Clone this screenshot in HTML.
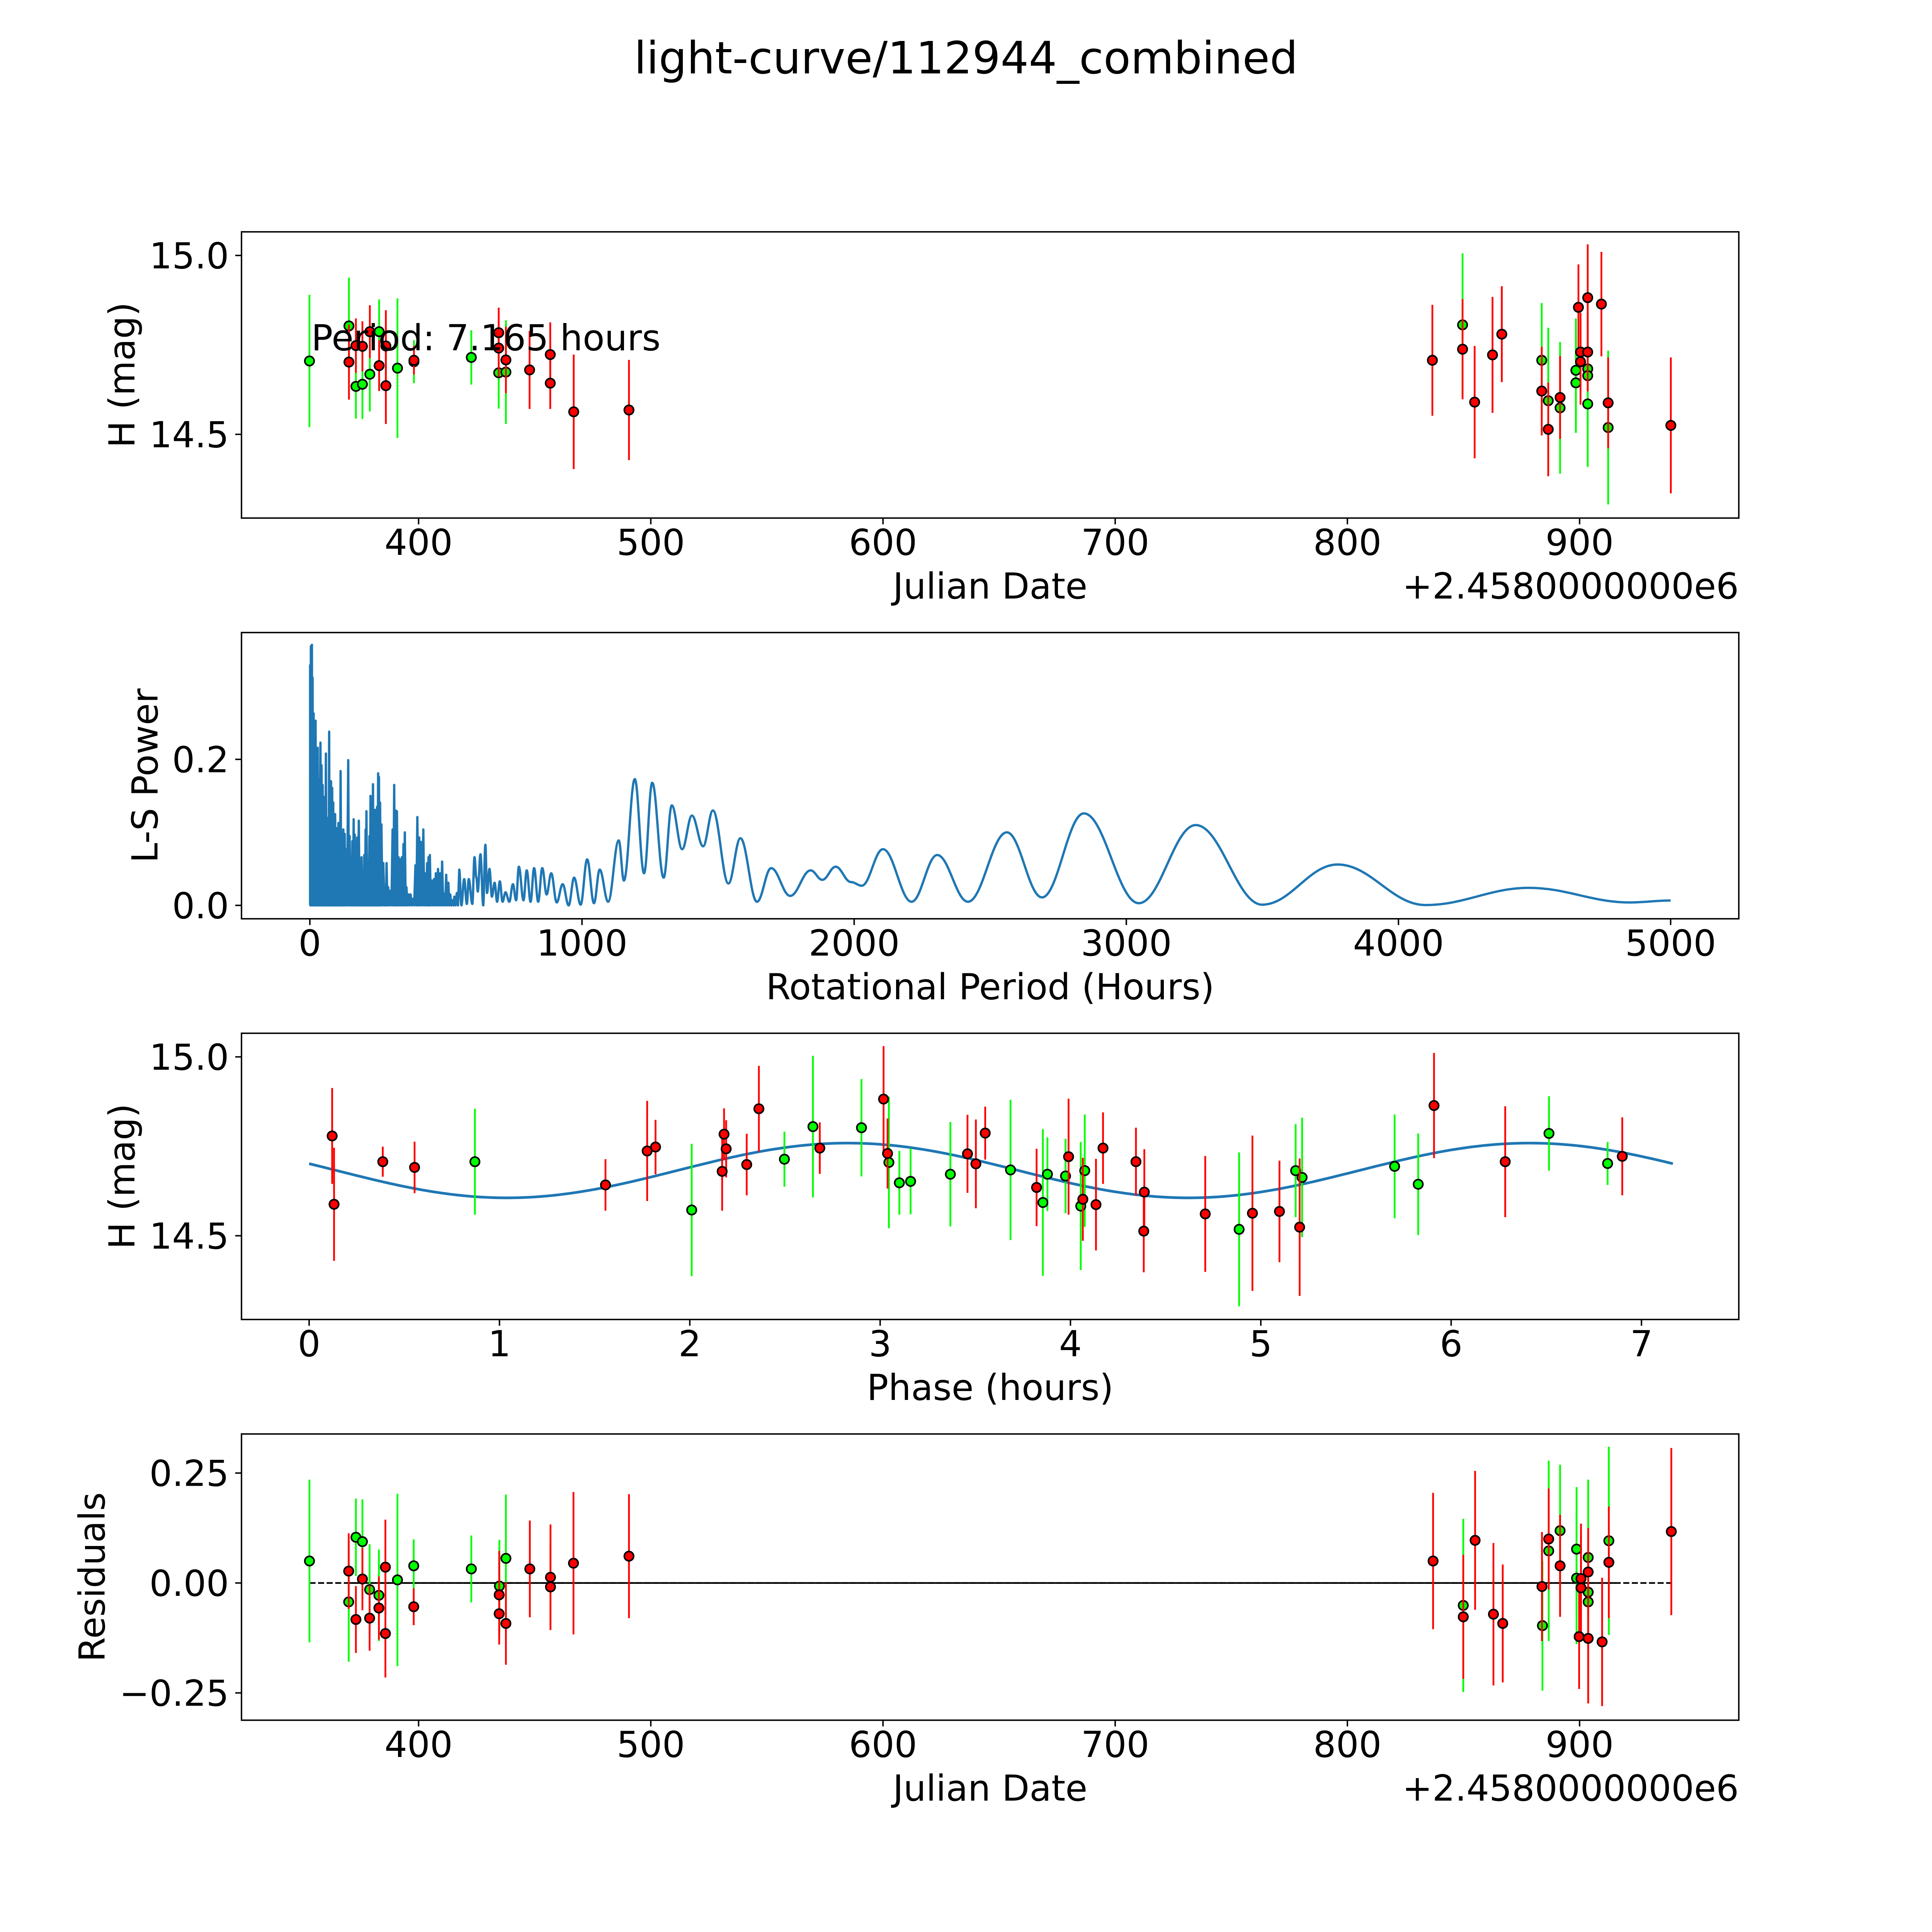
<!DOCTYPE html>
<html><head><meta charset="utf-8"><style>
html,body{margin:0;padding:0;background:#fff;width:100%;height:100%;overflow:hidden;}
svg{display:block;width:100vw;height:100vh;font-family:"DejaVu Sans","Liberation Sans",sans-serif;}
</style></head><body>
<svg id="fig" xmlns="http://www.w3.org/2000/svg" viewBox="0 0 5400 5400" preserveAspectRatio="xMidYMid meet">
<rect x="0" y="0" width="5400" height="5400" fill="#ffffff"/>
<text x="2700" y="205" font-size="124" text-anchor="middle">light-curve/112944_combined</text>
</svg>
<script>
// ---------- data ----------
const lcGreenDate=[353.0,370.0,373.0,375.8,379.0,383.0,390.9,398.0,422.7,434.5,437.6,849.6,883.7,886.5,891.6,898.4,898.4,903.5,903.5,903.5,912.3];
const lcGreenMag=[14.705,14.803,14.634,14.640,14.668,14.787,14.685,14.703,14.715,14.672,14.674,14.806,14.707,14.594,14.574,14.679,14.644,14.683,14.664,14.585,14.519];
const lcGreenErr=[0.185,0.135,0.09,0.097,0.104,0.09,0.195,0.06,0.076,0.1,0.145,0.2,0.16,0.204,0.184,0.145,0.14,0.14,0.14,0.176,0.215];
const lcRedDate=[370.0,373.0,375.8,379.0,383.0,385.9,385.9,398.0,434.5,434.5,437.6,447.8,456.7,456.7,466.8,490.6,836.6,849.6,854.8,862.5,866.5,883.7,886.5,891.6,899.5,900.4,900.4,903.5,903.5,909.4,912.3,939.3];
const lcRedMag=[14.702,14.748,14.746,14.787,14.692,14.747,14.636,14.707,14.784,14.741,14.708,14.680,14.723,14.643,14.563,14.568,14.707,14.738,14.590,14.722,14.780,14.621,14.514,14.603,14.855,14.730,14.703,14.882,14.730,14.864,14.588,14.525];
const lcRedErr=[0.105,0.076,0.07,0.074,0.071,0.1,0.107,0.04,0.07,0.08,0.093,0.109,0.09,0.072,0.16,0.14,0.155,0.14,0.157,0.162,0.134,0.124,0.131,0.116,0.12,0.11,0.12,0.149,0.11,0.146,0.127,0.19];

const lsSpikePeriod=[1,3.8,7.6,10,14,18,21,25,29,33,39,43,47,50,54,59,63,67,71,74,78,82,86,89,93,97,101,105,108,113,118,123,128,133,141,146,150,156,161,165,169,174,180,185,190,195,200,205,208,213,219,223,227,232,236,239,243,247,251,254,258,263,270,277,282,288,296,304,310,315,320,326,332,338,344,349,355,363,370,379,388,395,402,408,417,423,431,436,441,448,456,463,471,479,486,494,501,509,516,524,531,540];
const lsSpikePower=[0.329,0.355,0.357,0.312,0.263,0.216,0.253,0.162,0.216,0.173,0.223,0.192,0.165,0.149,0.133,0.208,0.120,0.095,0.238,0.141,0.170,0.161,0.141,0.109,0.125,0.106,0.077,0.113,0.087,0.184,0.068,0.104,0.098,0.077,0.199,0.095,0.060,0.088,0.118,0.097,0.074,0.093,0.116,0.060,0.066,0.034,0.069,0.104,0.129,0.057,0.095,0.150,0.134,0.166,0.131,0.082,0.131,0.135,0.181,0.176,0.141,0.111,0.058,0.025,0.058,0.025,0.020,0.104,0.165,0.130,0.129,0.066,0.063,0.066,0.084,0.100,0.025,0.015,0.015,0.009,0.055,0.121,0.093,0.087,0.104,0.044,0.058,0.066,0.069,0.034,0.036,0.044,0.050,0.044,0.060,0.016,0.042,0.031,0.015,0.007,0.012,0.017];
const lsPeriod=[549,557,567,577,584,597,605,612,617,627,637,645,651,660,669,679,688,698,708,719,733,746,758,768,785,797,811,824,839,854,870,887,907,929,951,971,995,1019,1044,1065,1096,1135,1154,1194,1228,1258,1300,1330,1368,1404,1445,1481,1538,1582,1643,1695,1765,1840,1883,1932,1988,2028,2106,2211,2305,2418,2561,2690,2844,3046,3255,3499,3776,4099,4479,4850,5000];
const lsPower=[0.049,0.0,0.036,0.002,0.036,0.002,0.066,0.038,0.019,0.070,0.0,0.083,0.017,0.050,0.012,0.031,0.005,0.033,0.005,0.018,0.005,0.029,0.007,0.053,0.007,0.048,0.005,0.051,0.005,0.051,0.015,0.044,0.004,0.029,0.0,0.038,0.001,0.063,0.003,0.049,0.005,0.089,0.034,0.173,0.044,0.168,0.038,0.137,0.077,0.123,0.081,0.130,0.030,0.092,0.005,0.051,0.013,0.048,0.035,0.053,0.032,0.027,0.077,0.005,0.069,0.005,0.100,0.011,0.126,0.003,0.110,0.001,0.056,0.0005,0.024,0.004,0.0067];

const phGreenPhase=[0.871,2.010,2.497,2.647,2.902,3.046,3.101,3.160,3.369,3.685,3.855,3.879,3.974,4.054,4.075,4.886,5.183,5.217,5.703,5.827,6.514,6.822];
const phGreenMag=[14.707,14.572,14.714,14.805,14.802,14.705,14.648,14.652,14.672,14.684,14.593,14.672,14.667,14.583,14.682,14.518,14.682,14.663,14.694,14.644,14.786,14.702];
const phGreenErr=[0.148,0.185,0.077,0.198,0.136,0.184,0.089,0.092,0.146,0.196,0.205,0.103,0.104,0.179,0.157,0.215,0.13,0.167,0.145,0.142,0.104,0.06];
const phRedPhase=[0.121,0.131,0.387,0.554,1.557,1.776,1.820,2.170,2.180,2.191,2.299,2.363,2.683,3.018,3.039,3.459,3.503,3.552,3.822,3.990,4.065,4.134,4.171,4.344,4.388,4.385,4.708,4.956,5.098,5.204,5.910,6.284,6.899];
const phRedMag=[14.779,14.588,14.707,14.691,14.642,14.737,14.748,14.680,14.784,14.743,14.699,14.855,14.745,14.882,14.730,14.729,14.701,14.787,14.635,14.721,14.602,14.587,14.745,14.707,14.622,14.513,14.561,14.563,14.568,14.524,14.864,14.707,14.722];
const phRedErr=[0.134,0.158,0.042,0.072,0.072,0.14,0.076,0.11,0.072,0.08,0.086,0.12,0.072,0.148,0.098,0.109,0.124,0.074,0.108,0.162,0.116,0.128,0.1,0.095,0.12,0.115,0.162,0.217,0.142,0.192,0.147,0.155,0.109];
const fitPeriod=[7.165];
const fitMean=[14.6825];
const fitAmp=[0.0765];
const fitPhaseMax=[2.83];

const resGreenDate=[353.0,369.9,373.0,375.8,378.9,382.9,390.9,397.9,422.7,434.8,437.6,849.9,884.0,886.7,891.6,898.7,898.7,903.7,903.7,903.7,912.6];
const resGreenVal=[0.050,-0.043,0.104,0.094,-0.015,-0.028,0.007,0.039,0.032,-0.007,0.056,-0.051,-0.097,0.073,0.119,0.077,0.011,0.058,-0.021,-0.043,0.096];
const resGreenErr=[0.185,0.136,0.088,0.096,0.103,0.104,0.196,0.06,0.076,0.105,0.145,0.197,0.148,0.205,0.15,0.141,0.15,0.177,0.12,0.12,0.214];
const resRedDate=[369.9,373.0,375.8,378.9,382.9,385.7,385.7,397.9,434.7,434.7,437.6,447.9,456.8,456.8,466.7,490.6,836.9,849.9,855.0,862.9,866.9,883.8,886.7,891.6,899.8,900.6,900.6,903.7,903.7,909.7,912.6,939.5];
const resRedVal=[0.027,-0.083,0.009,-0.080,-0.057,0.036,-0.115,-0.054,-0.027,-0.070,-0.092,0.032,0.013,-0.009,0.045,0.061,0.050,-0.077,0.097,-0.071,-0.092,-0.008,0.100,0.039,-0.122,0.010,-0.011,0.025,-0.126,-0.134,0.047,0.117];
const resRedErr=[0.086,0.076,0.071,0.074,0.072,0.108,0.1,0.042,0.1,0.07,0.094,0.11,0.12,0.095,0.162,0.141,0.155,0.141,0.158,0.162,0.134,0.124,0.115,0.116,0.119,0.125,0.12,0.1,0.148,0.146,0.127,0.19];

const dateTicks=[400,500,600,700,800,900];
const magTicks=[14.5,15.0];
const magTickLabels=["14.5","15.0"];
const lsXTicks=[0,1000,2000,3000,4000,5000];
const lsYTicks=[0.0,0.2];
const lsYTickLabels=["0.0","0.2"];
const phaseTicks=[0,1,2,3,4,5,6,7];
const resTicks=[0.25,0.0,-0.25];
const resTickLabels=["0.25","0.00","\u22120.25"];

// ---------- layout ----------
const NS="http://www.w3.org/2000/svg";
const svg=document.getElementById('fig');
const L=675,R=4860,H=800;
const TOPS=[648,1768,2888,4008];
function mk(tag,attrs,parent){const e=document.createElementNS(NS,tag);for(const k in attrs)e.setAttribute(k,attrs[k]);(parent||svg).appendChild(e);return e;}

const xDate=d=>1170+(d-400)*6.49;
const yMag=(m,top)=>top+66+(15-m)*1000;
const xLS=p=>866+p*0.7607;
const yLS=v=>2530.6-v*2040.5;
const xPh=p=>864+p*532;
const yRes=v=>4424.5-v*1229;

const defs=mk('defs',{});
TOPS.forEach((t,i)=>{const c=mk('clipPath',{id:'clip'+i},defs);mk('rect',{x:L,y:t,width:R-L,height:H},c);});

function panelGroup(i,name){const g=mk('g',{});


return g;}

function xTick(g,x,bottom,label,name){
 const t=mk('line',{x1:x,x2:x,y1:bottom,y2:bottom+17.5,stroke:'#000','stroke-width':4},g);
 
 
 const tx=mk('text',{x:x,y:bottom+103,'font-size':100,'text-anchor':'middle'},g);
 tx.textContent=label;
 
 
}
function yTick(g,y,label,name){
 const t=mk('line',{x1:L-17.5,x2:L,y1:y,y2:y,stroke:'#000','stroke-width':4},g);
 
 
 const tx=mk('text',{x:L-35,y:y+36,'font-size':100,'text-anchor':'end'},g);
 tx.textContent=label;
 
 
}
function frame(g,top,name){
 const f=mk('rect',{x:L,y:top,width:R-L,height:H,fill:'none',stroke:'#000','stroke-width':4},g);
 
 
}
function xLabel(g,top,text,name){
 const t=mk('text',{x:(L+R)/2,y:top+H+225,'font-size':100,'text-anchor':'middle'},g);
 t.textContent=text;
 
 
}
function yLabel(g,top,bx,text,name){
 const cy=top+H/2;
 const t=mk('text',{x:bx,y:cy,'font-size':100,'text-anchor':'middle',transform:'rotate(-90 '+bx+' '+cy+')'},g);
 t.textContent=text;
 
 
}
function offsetText(g,top){
 const t=mk('text',{x:R,y:top+H+225,'font-size':100,'text-anchor':'end'},g);
 t.textContent='+2.4580000000e6';
 
 
}
function errSeries(g,xs,ys,es,xf,yf,color,name){
 const sg=mk('g',{},g);
 
 
 for(let i=0;i<xs.length;i++){
  const x=xf(xs[i]);
  const b=mk('line',{x1:x,x2:x,y1:yf(ys[i]+es[i]),y2:yf(ys[i]-es[i]),stroke:color,'stroke-width':5},sg);
  
  
 }
 for(let i=0;i<xs.length;i++){
  const c=mk('circle',{cx:xf(xs[i]),cy:yf(ys[i]),r:13,fill:color,stroke:'#000','stroke-width':4.5},sg);
  
  
 }
}

// ---------- panel 1 ----------
{
 const top=TOPS[0];
 const g=panelGroup(0,'light-curve-panel');
 const dg=mk('g',{'clip-path':'url(#clip0)'},g);
 const ym=m=>yMag(m,top);
 errSeries(dg,lcGreenDate,lcGreenMag,lcGreenErr,xDate,ym,'#00ff00','green-series');
 errSeries(dg,lcRedDate,lcRedMag,lcRedErr,xDate,ym,'#ff0000','red-series');
 const pt=mk('text',{x:870,y:979,'font-size':100},g);
 pt.textContent='Period: 7.165 hours';
 
 
 dateTicks.forEach(d=>xTick(g,xDate(d),top+H,String(d),'x-date'));
 magTicks.forEach((m,i)=>yTick(g,ym(m),magTickLabels[i],'y-mag'));
 frame(g,top,'light-curve');
 xLabel(g,top,'Julian Date','x-axis-title');
 offsetText(g,top);
 yLabel(g,top,376,'H (mag)','y-axis-title');
}

// ---------- panel 2 ----------
{
 const top=TOPS[1];
 const g=panelGroup(1,'periodogram-panel');
 const dg=mk('g',{'clip-path':'url(#clip1)'},g);
 let d='M'+xLS(lsSpikePeriod[0]).toFixed(1)+' '+yLS(0).toFixed(1);
 for(let i=0;i<lsSpikePeriod.length;i++){
  d+=' L'+xLS(lsSpikePeriod[i]).toFixed(1)+' '+yLS(lsSpikePower[i]).toFixed(1);
  const nx=i+1<lsSpikePeriod.length?lsSpikePeriod[i+1]:lsPeriod[0];
  d+=' L'+xLS((lsSpikePeriod[i]+nx)/2).toFixed(1)+' '+yLS(0).toFixed(1);
 }
 d+=' L'+xLS(lsPeriod[0]).toFixed(1)+' '+yLS(lsPower[0]).toFixed(1);
 for(let i=1;i<lsPeriod.length;i++){
  const x0=xLS(lsPeriod[i-1]),y0=yLS(lsPower[i-1]),x1=xLS(lsPeriod[i]),y1=yLS(lsPower[i]);
  const dx=x1-x0;
  d+=' C'+(x0+dx*0.38).toFixed(1)+' '+y0.toFixed(1)+' '+(x1-dx*0.38).toFixed(1)+' '+y1.toFixed(1)+' '+x1.toFixed(1)+' '+y1.toFixed(1);
 }
 const p=mk('path',{d:d,fill:'none',stroke:'#1f77b4','stroke-width':6.5,'stroke-linejoin':'round'},dg);
 
 
 lsXTicks.forEach(v=>xTick(g,xLS(v),top+H,String(v),'x-period'));
 lsYTicks.forEach((v,i)=>yTick(g,yLS(v),lsYTickLabels[i],'y-power'));
 frame(g,top,'periodogram');
 xLabel(g,top,'Rotational Period (Hours)','x-axis-title-period');
 yLabel(g,top,440,'L-S Power','y-axis-title-power');
}

// ---------- panel 3 ----------
{
 const top=TOPS[2];
 const g=panelGroup(2,'phase-panel');
 const dg=mk('g',{'clip-path':'url(#clip2)'},g);
 const ym=m=>yMag(m,top);
 let d='';
 const N=300;
 for(let k=0;k<=N;k++){
  const ph=fitPeriod[0]*k/N;
  const m=fitMean[0]+fitAmp[0]*Math.cos(2*Math.PI*(ph-fitPhaseMax[0])/(fitPeriod[0]/2));
  d+=(k?' L':'M')+xPh(ph).toFixed(1)+' '+ym(m).toFixed(1);
 }
 const fl=mk('path',{d:d,fill:'none',stroke:'#1f77b4','stroke-width':7.5},dg);
 
 
 errSeries(dg,phGreenPhase,phGreenMag,phGreenErr,xPh,ym,'#00ff00','phase-green-series');
 errSeries(dg,phRedPhase,phRedMag,phRedErr,xPh,ym,'#ff0000','phase-red-series');
 phaseTicks.forEach(v=>xTick(g,xPh(v),top+H,String(v),'x-phase'));
 magTicks.forEach((m,i)=>yTick(g,ym(m),magTickLabels[i],'y-mag-phase'));
 frame(g,top,'phase');
 xLabel(g,top,'Phase (hours)','x-axis-title-phase');
 yLabel(g,top,376,'H (mag)','y-axis-title-phase');
}

// ---------- panel 4 ----------
{
 const top=TOPS[3];
 const g=panelGroup(3,'residuals-panel');
 const dg=mk('g',{'clip-path':'url(#clip3)'},g);
 const allDates=resGreenDate.concat(resRedDate);
 const dmin=Math.min(...allDates),dmax=Math.max(...allDates);
 const dl=mk('line',{x1:xDate(dmin),x2:xDate(dmax),y1:yRes(0),y2:yRes(0),stroke:'#000','stroke-width':4.5,'stroke-dasharray':'17 7'},dg);
 
 
 const sl=mk('line',{x1:xDate(370),x2:xDate(915.7),y1:yRes(0),y2:yRes(0),stroke:'#000','stroke-width':4.5},dg);
 
 
 errSeries(dg,resGreenDate,resGreenVal,resGreenErr,xDate,yRes,'#00ff00','residual-green-series');
 errSeries(dg,resRedDate,resRedVal,resRedErr,xDate,yRes,'#ff0000','residual-red-series');
 dateTicks.forEach(d=>xTick(g,xDate(d),top+H,String(d),'x-date-res'));
 resTicks.forEach((v,i)=>yTick(g,yRes(v),resTickLabels[i],'y-residual'));
 frame(g,top,'residuals');
 xLabel(g,top,'Julian Date','x-axis-title-res');
 offsetText(g,top);
 yLabel(g,top,292,'Residuals','y-axis-title-res');
}
</script>
</body></html>
